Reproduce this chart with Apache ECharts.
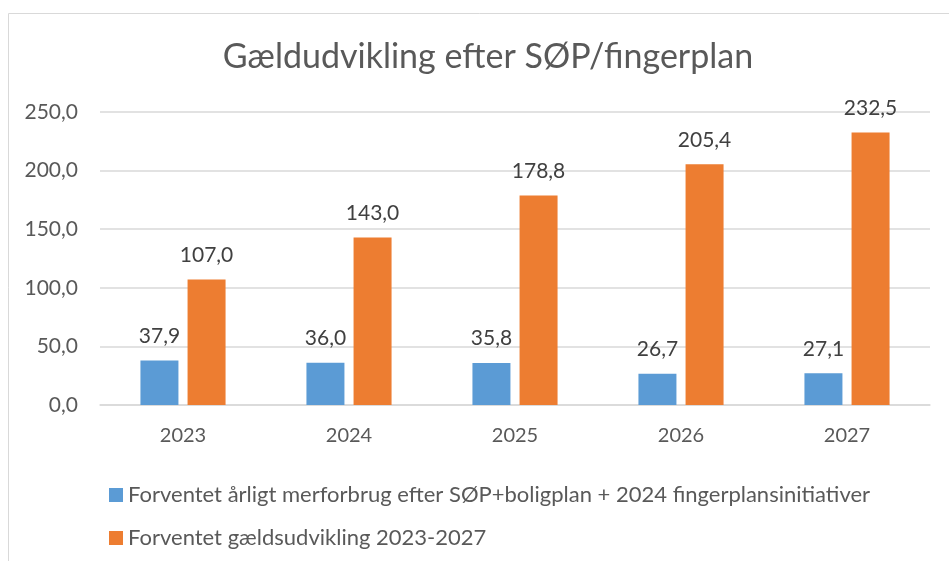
<!DOCTYPE html>
<html>
<head>
<meta charset="utf-8">
<script src="https://cdn.jsdelivr.net/npm/echarts@6/dist/echarts.min.js"></script>
<style>
html, body { margin: 0; padding: 0; background: #fff; }
#main { width: 949px; height: 561px; }
</style>
</head>
<body>
<div id="main"></div>
<script>
var years = ['2023', '2024', '2025', '2026', '2027'];
var merforbrug = [37.9, 36.0, 35.8, 26.7, 27.1];
var gaeld = [107.0, 143.0, 178.8, 205.4, 232.5];
var seriesNames = [
    'Forventet årligt merforbrug efter SØP+boligplan + 2024 fingerplansinitiativer',
    'Forventet gældsudvikling 2023-2027'
];

var fontName = 'Lato, "Open Sans", sans-serif';
function komma(v) {
    return Number(v).toFixed(1).replace('.', ',');
}

var myChart = echarts.init(document.getElementById('main'));
var option = {
    animation: false,
    textStyle: { fontFamily: fontName },
    graphic: [{
        type: 'rect',
        shape: { x: 8.5, y: 13.5, width: 960, height: 600 },
        style: { fill: 'none', stroke: '#d9d9d9', lineWidth: 1 },
        silent: true
    }],
    title: {
        text: 'Gældudvikling efter SØP/fingerplan',
        left: 483,
        textAlign: 'center',
        top: 35,
        textStyle: { fontFamily: fontName, fontSize: 34, fontWeight: 'normal', color: '#595959' }
    },
    legend: {
        orient: 'vertical',
        left: 104,
        top: 479,
        itemWidth: 14,
        itemHeight: 14,
        itemGap: 21,
        icon: 'rect',
        textStyle: { fontFamily: fontName, fontSize: 22, color: '#595959' },
        data: seriesNames
    },
    grid: { left: 100, right: 19, top: 112, bottom: 156 },
    xAxis: {
        type: 'category',
        data: years,
        axisLine: { lineStyle: { color: '#d9d9d9', width: 1.5 } },
        axisTick: { show: false },
        axisLabel: { color: '#595959', fontSize: 20, margin: 21, fontFamily: fontName }
    },
    yAxis: {
        type: 'value',
        min: 0,
        max: 250,
        interval: 50,
        axisLine: { show: false },
        axisTick: { show: false },
        splitLine: { lineStyle: { color: '#d9d9d9', width: 1.5 } },
        axisLabel: { color: '#595959', fontSize: 21, margin: 22, formatter: komma, fontFamily: fontName }
    },
    series: [
        {
            name: seriesNames[0],
            type: 'bar',
            data: merforbrug,
            barWidth: 38,
            barGap: '24%',
            itemStyle: { color: '#5b9bd5' },
            label: {
                show: true, position: 'top', distance: 14,
                fontSize: 21, color: '#404040', fontFamily: fontName,
                formatter: function (p) { return komma(p.value); }
            }
        },
        {
            name: seriesNames[1],
            type: 'bar',
            data: gaeld,
            barWidth: 38,
            barGap: '24%',
            itemStyle: { color: '#ed7d31' },
            label: {
                show: true, position: 'top', distance: 14,
                fontSize: 21, color: '#404040', fontFamily: fontName,
                formatter: function (p) { return komma(p.value); }
            }
        }
    ]
};
myChart.setOption(option);
</script>
</body>
</html>
